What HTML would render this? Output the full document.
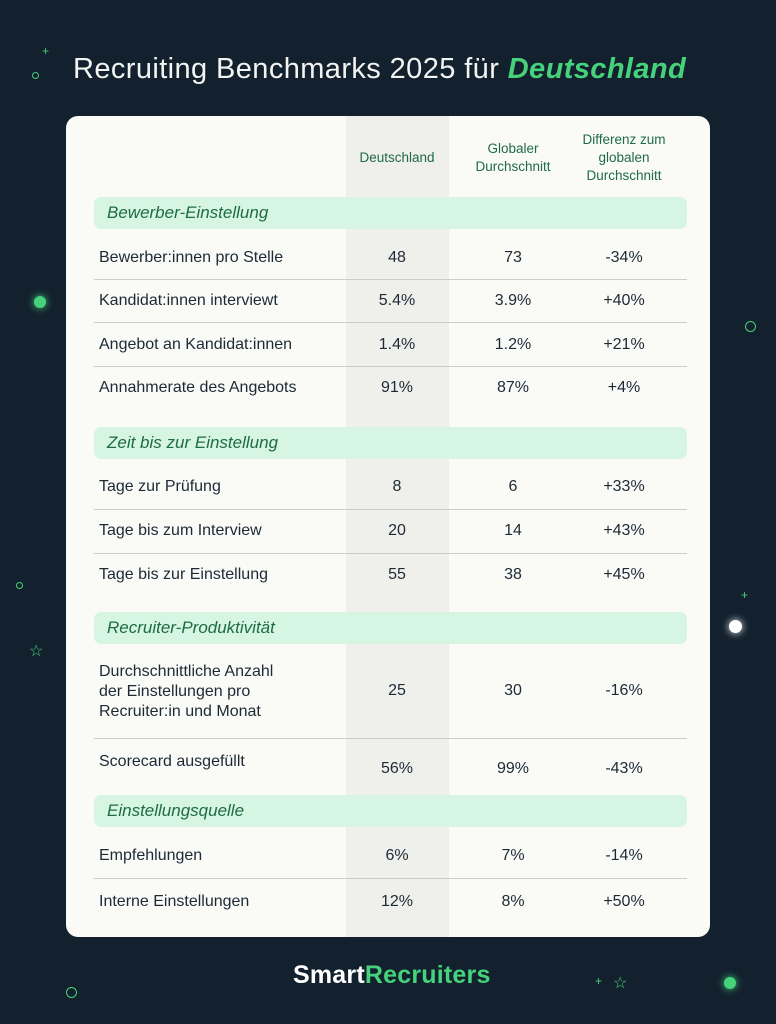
<!DOCTYPE html>
<html><head><meta charset="utf-8"><style>
body{margin:0;width:776px;height:1024px;background:#13202e;position:relative;overflow:hidden;font-family:"Liberation Sans",sans-serif}
.a{position:absolute}
.t{position:absolute;white-space:nowrap;font-size:16px;color:#1d2a36;transform:translateY(-50%)}
.v{text-align:center;width:100px;margin-left:-50px}
.h{font-size:13.5px;color:#1f6b47;text-align:center;line-height:18px}
.sec{position:absolute;left:94px;width:593px;height:32px;background:#d6f5e2;border-radius:7px}
.sec span{position:absolute;left:13px;top:6px;font-style:italic;font-size:17px;color:#1e6b46}
.ln{position:absolute;left:94px;width:593px;height:1px;background:#c8cdd2}
.dot{position:absolute;border-radius:50%}
</style></head><body>
<div class="a" style="left:73px;top:53px;font-size:29px;letter-spacing:0.4px;color:#f2f4f2;white-space:nowrap">Recruiting Benchmarks 2025 für <b style="font-style:italic;color:#46d27a">Deutschland</b></div>
<div class="a" style="left:66px;top:116px;width:644px;height:821px;background:#fafaf7;border-radius:12px;overflow:hidden">
 <div class="a" style="left:280px;top:0;width:103px;height:821px;background:#efefeb"></div>
</div>
<div class="t h" style="left:347px;top:158px;width:100px">Deutschland</div>
<div class="t h" style="left:463px;top:158px;width:100px">Globaler<br>Durchschnitt</div>
<div class="t h" style="left:568px;top:158px;width:112px">Differenz zum<br>globalen<br>Durchschnitt</div>

<div class="sec" style="top:197px"><span>Bewerber-Einstellung</span></div>
<div class="sec" style="top:427px"><span>Zeit bis zur Einstellung</span></div>
<div class="sec" style="top:612px"><span>Recruiter-Produktivität</span></div>
<div class="sec" style="top:795px"><span>Einstellungsquelle</span></div>

<div class="ln" style="top:279px"></div><div class="ln" style="top:322px"></div><div class="ln" style="top:366px"></div>
<div class="ln" style="top:509px"></div><div class="ln" style="top:553px"></div>
<div class="ln" style="top:738px"></div><div class="ln" style="top:878px"></div>

<div class="t" style="left:99px;top:258px">Bewerber:innen pro Stelle</div><div class="t v" style="left:397px;top:258px">48</div><div class="t v" style="left:513px;top:258px">73</div><div class="t v" style="left:624px;top:258px">-34%</div>
<div class="t" style="left:99px;top:301px">Kandidat:innen interviewt</div><div class="t v" style="left:397px;top:301px">5.4%</div><div class="t v" style="left:513px;top:301px">3.9%</div><div class="t v" style="left:624px;top:301px">+40%</div>
<div class="t" style="left:99px;top:345px">Angebot an Kandidat:innen</div><div class="t v" style="left:397px;top:345px">1.4%</div><div class="t v" style="left:513px;top:345px">1.2%</div><div class="t v" style="left:624px;top:345px">+21%</div>
<div class="t" style="left:99px;top:388px">Annahmerate des Angebots</div><div class="t v" style="left:397px;top:388px">91%</div><div class="t v" style="left:513px;top:388px">87%</div><div class="t v" style="left:624px;top:388px">+4%</div>

<div class="t" style="left:99px;top:487px">Tage zur Prüfung</div><div class="t v" style="left:397px;top:487px">8</div><div class="t v" style="left:513px;top:487px">6</div><div class="t v" style="left:624px;top:487px">+33%</div>
<div class="t" style="left:99px;top:531px">Tage bis zum Interview</div><div class="t v" style="left:397px;top:531px">20</div><div class="t v" style="left:513px;top:531px">14</div><div class="t v" style="left:624px;top:531px">+43%</div>
<div class="t" style="left:99px;top:575px">Tage bis zur Einstellung</div><div class="t v" style="left:397px;top:575px">55</div><div class="t v" style="left:513px;top:575px">38</div><div class="t v" style="left:624px;top:575px">+45%</div>

<div class="t" style="left:99px;top:692px;line-height:20px">Durchschnittliche Anzahl<br>der Einstellungen pro<br>Recruiter:in und Monat</div><div class="t v" style="left:397px;top:691px">25</div><div class="t v" style="left:513px;top:691px">30</div><div class="t v" style="left:624px;top:691px">-16%</div>
<div class="t" style="left:99px;top:762px">Scorecard ausgefüllt</div><div class="t v" style="left:397px;top:769px">56%</div><div class="t v" style="left:513px;top:769px">99%</div><div class="t v" style="left:624px;top:769px">-43%</div>

<div class="t" style="left:99px;top:856px">Empfehlungen</div><div class="t v" style="left:397px;top:856px">6%</div><div class="t v" style="left:513px;top:856px">7%</div><div class="t v" style="left:624px;top:856px">-14%</div>
<div class="t" style="left:99px;top:902px">Interne Einstellungen</div><div class="t v" style="left:397px;top:902px">12%</div><div class="t v" style="left:513px;top:902px">8%</div><div class="t v" style="left:624px;top:902px">+50%</div>

<div class="a" style="left:293px;top:961px;font-size:25px;font-weight:bold;color:#fff;letter-spacing:0.2px">Smart<span style="color:#46d27a">Recruiters</span></div>

<div class="dot" style="left:34px;top:296px;width:12px;height:12px;background:#46d27a;box-shadow:0 0 8px #46d27a"></div>
<div class="dot" style="left:729px;top:620px;width:13px;height:13px;background:#fff;box-shadow:0 0 8px #fff"></div>
<div class="dot" style="left:724px;top:977px;width:12px;height:12px;background:#46d27a;box-shadow:0 0 8px #46d27a"></div>
<div class="dot" style="left:745px;top:321px;width:9px;height:9px;border:1.5px solid #46d27a"></div>
<div class="dot" style="left:66px;top:987px;width:9px;height:9px;border:1.5px solid #46d27a"></div>
<div class="dot" style="left:32px;top:72px;width:5px;height:5px;border:1px solid #46d27a"></div>
<div class="dot" style="left:16px;top:582px;width:5px;height:5px;border:1px solid #46d27a"></div>
<div class="a" style="left:42px;top:44px;color:#46d27a;font-size:12px">+</div>
<div class="a" style="left:741px;top:588px;color:#46d27a;font-size:12px">+</div>
<div class="a" style="left:595px;top:974px;color:#46d27a;font-size:12px">+</div>
<div class="a" style="left:29px;top:641px;color:#46d27a;font-size:16px">☆</div>
<div class="a" style="left:613px;top:973px;color:#46d27a;font-size:16px">☆</div>
</body></html>
